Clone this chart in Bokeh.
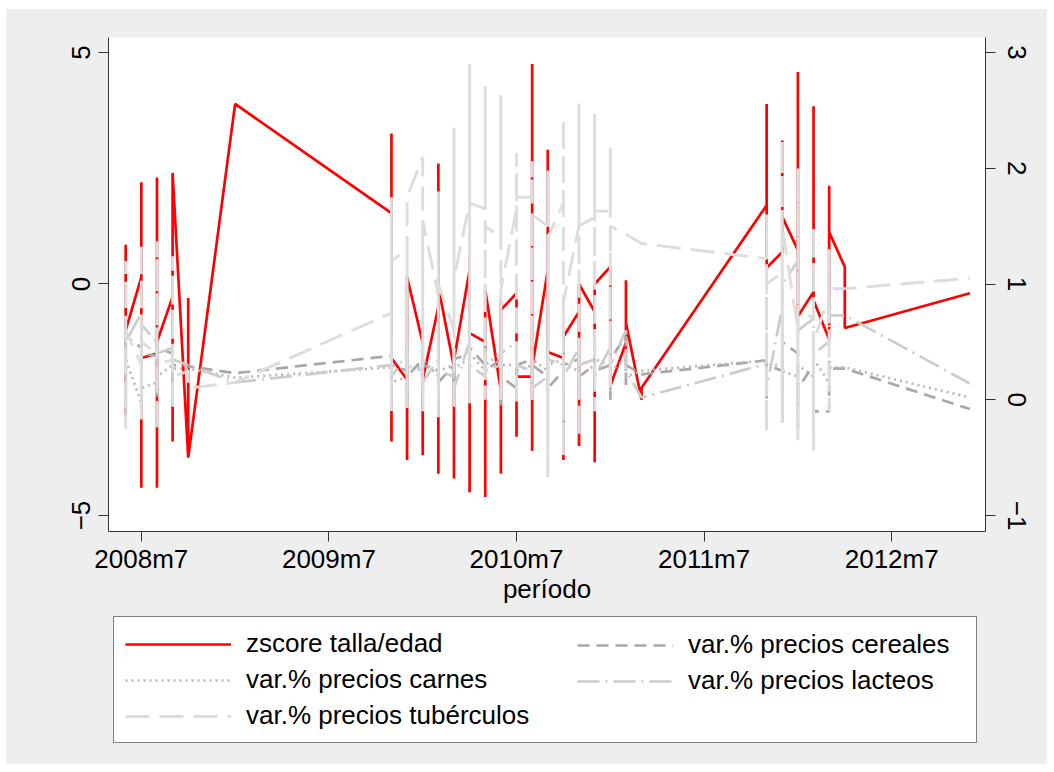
from bokeh.plotting import figure
from bokeh.layouts import column
from bokeh.models import Range1d, LinearAxis, FixedTicker, Legend, LegendItem
from bokeh.embed import file_html
from bokeh.resources import INLINE

# Stata monthly dates (months since 1960m1): 582 = 2008m7
months = [581, 582, 583, 584, 585, 588,
          598, 599, 600, 601, 602, 603, 604, 605, 606, 607, 608, 609, 610, 611, 612, 613, 614,
          622, 623, 624, 625, 626, 627, 635]

# observations inside each month, in data order (left axis)
zscore = [[0.85, -2.8, -1.0], [0.15, 2.2, -4.4, -1.6], [-1.5, 2.3, -4.4, -1.25],
          [-0.28, -3.4, 2.4], [-3.75, -0.3, -3.75], [3.89],
          [1.53, 3.25, -3.4, -1.6], [-2.07, -3.8, 0.15], [-1.27, -3.7, -2.07],
          [-0.5, 2.6, -4.1, -0.06], [-1.8, -4.2, -1.64], [0.3, 0.6, -4.5, -1.06],
          [-1.25, -4.6, -0.13], [-2.3, -4.1, -0.35, -0.56], [-0.2, -3.3, -2.0],
          [-2.0, 4.75, -3.6, -1.8], [0.3, 2.9, -1.47], [-1.6, -3.8, -1.14],
          [-0.6, -3.5, 0.0], [-0.6, -3.85, 0.0], [0.37, -2.2], [-1.27, 0.08, -1.49, -0.84],
          [-2.5, -2.24],
          [1.7, 3.89, 0.35], [0.69, 3.1, 1.45], [0.73, 4.58, -0.7], [-0.17, 3.84, -0.35],
          [-1.2, 2.12, 1.12], [0.37, -0.95], [-0.2]]

# price variations (right axis)
cereales = [[0.3, 0.55, 0.0, 0.55], [0.45, -0.1, 0.4], [0.38, 0.0, 0.45], [0.4, 0.1, 0.3],
            [0.3, 0.29], [0.23],
            [0.38, 0.1, 0.5, 0.3], [0.25, 0.5, 0.2], [0.35, 0.05, 0.3], [0.25, 0.6, 0.15],
            [0.3, 0.0, 0.35], [0.4, 0.15, 0.45], [0.3, 0.6, 0.25], [0.35, -0.05, 0.2],
            [0.1, 0.4, 0.3], [0.35, 0.0, 0.3], [0.2, 0.55, 0.1], [0.25, 0.0, 0.3],
            [0.35, 0.05, 0.2], [0.3, 0.5, 0.25], [0.3, 0.0, 0.35], [0.55, 0.1, 0.3], [0.22],
            [0.34, 0.1, -0.25, 0.3], [0.25, -0.2, 0.5], [0.4, -0.25, 0.1], [0.3, -0.25, 0.15, -0.1],
            [-0.1, 0.3, 0.27], [0.27], [-0.08]]

carnes = [[0.3, 0.2, 0.35], [-0.03, 0.3, 0.1], [0.15, 0.35, 0.2], [0.3, 0.1, 0.27],
          [0.27], [0.19],
          [0.28, 0.45, 0.15], [0.2, 0.35, 0.25], [0.3, 0.1, 0.35], [0.2, 0.4, 0.25],
          [0.3, 0.15, 0.28], [0.35, 0.2, 0.4], [0.25, 0.45, 0.3], [0.4, 0.15, 0.3],
          [0.3, 0.5, 0.25], [0.3, 0.15, 0.35], [0.25, 0.1, 0.3], [0.35, 0.2, 0.3],
          [0.25, 0.4, 0.2], [0.3, 0.15, 0.35], [0.3, 0.45, 0.25], [0.35, 0.2], [0.25],
          [0.34, 0.2, 0.3], [0.3, 0.05, 0.25], [0.2, -0.05, 0.3], [0.2, 0.0, 0.35],
          [0.15, 0.35, 0.28], [0.28], [0.02]]

lacteos = [[0.6, 0.2, -0.2, 0.5], [0.75, 0.0, 0.65], [0.5, 0.1, 0.4], [0.45, 0.0, 0.35],
           [0.3, 0.3], [0.15],
           [0.3, 0.55, 0.2], [0.4, 0.1, 0.3], [0.25, 0.5, 0.15], [0.35, 0.0, 0.25],
           [0.2, 0.45, 0.1], [0.5, 0.9, 0.3], [0.2, 0.45, 0.25], [0.3, 0.0, 0.4],
           [0.5, 0.2, 0.3], [0.25, 0.55, 0.1], [0.2, -0.3, 0.35], [0.3, 0.1, 0.2],
           [0.45, 0.15, 0.3], [0.35, 0.6, 0.2], [0.45, 0.1, 0.3], [0.6, 0.25], [0.02],
           [0.31, 0.9, 0.1], [0.8, 0.3, 1.0], [1.2, 0.5, 0.6], [0.7, 0.2, 0.4],
           [0.5, 0.9, 0.73], [0.73], [0.14]]

tuberculos = [[0.5, 1.2, -0.25, 0.6], [0.3, 1.35, -0.17, 0.5], [0.4, 1.37, -0.27, 0.3],
              [0.35, 1.24, -0.1, 0.2], [0.25, 0.1], [0.15],
              [0.75, 1.75, -0.1, 1.2], [1.3, -0.07, 1.75], [2.1, -0.1, 1.55],
              [0.9, 1.8, -0.15, 1.0], [0.6, 2.35, -0.1, 1.05], [1.7, 2.9, -0.03, 1.7],
              [1.65, 2.71, 0.0, 1.5], [1.4, 2.63, 0.0, 0.95], [1.65, 2.13, -0.05, 1.75],
              [1.75, 2.06, 0.0, 1.6], [1.5, 1.98, -0.67, 1.4], [1.7, 2.43, -0.48, 0.85],
              [1.5, 2.56, -0.32, 1.5], [1.58, 2.47, -0.1, 1.63], [1.63, 2.18, 0.1, 1.5],
              [1.43], [1.35],
              [1.22, 1.6, -0.28, 1.0], [1.1, 2.24, -0.2, 1.5], [0.6, 2.0, -0.35, 0.8],
              [0.7, 1.5, -0.44, 0.5], [0.9, 1.3, -0.1, 0.96], [0.96], [1.05]]

x_ticks = [582, 594, 606, 618, 630]
x_labels = ["2008m7", "2009m7", "2010m7", "2011m7", "2012m7"]
left_ticks = [-5, 0, 5]
right_ticks = [-1, 0, 1, 2, 3]


def expand(ms, groups):
    xs, ys = [], []
    for m, g in zip(ms, groups):
        for v in g:
            xs.append(m)
            ys.append(v)
    return xs, ys


FONT = "Liberation Sans"
AX = "#333333"
BG = "#eeeeee"
OX, OY = 6, 9            # white page strip around the grey graph region
W = 1047 - OX
FRAME_LEFT = 108 - OX

STYLES = {
    "z": dict(line_color="#ff0000", line_width=2.7),
    "cer": dict(line_color="#a8a8a8", line_width=2.7, line_dash="12 7"),
    "car": dict(line_color="#b8b8b8", line_width=2.7, line_dash="2 4"),
    "lac": dict(line_color="#cccccc", line_width=2.7, line_dash="22 6 2 6"),
    "tub": dict(line_color="#dddddd", line_width=2.9, line_dash="24 10"),
}

p = figure(width=W, height=608 - OY, output_backend="svg", toolbar_location=None,
           x_range=Range1d(579.9, 636.0), y_range=Range1d(-5.346, 5.324),
           min_border_left=FRAME_LEFT, min_border_right=1047 - 985, min_border_top=37 - OY,
           min_border_bottom=77,
           background_fill_color="white", border_fill_color=BG,
           outline_line_color=None)
p.extra_y_ranges = {"r": Range1d(-1.138, 3.13)}
p.xgrid.visible = False
p.ygrid.visible = False

# data lines
x, y = expand(months, zscore)
p.line(x, y, **STYLES["z"])
x, y = expand(months, cereales)
p.line(x, y, y_range_name="r", **STYLES["cer"])
x, y = expand(months, carnes)
p.line(x, y, y_range_name="r", **STYLES["car"])
x, y = expand(months, lacteos)
p.line(x, y, y_range_name="r", **STYLES["lac"])
x, y = expand(months, tuberculos)
p.line(x, y, y_range_name="r", **STYLES["tub"])


def style_axis(ax):
    ax.axis_line_color = AX
    ax.major_tick_line_color = AX
    ax.minor_tick_line_color = None
    ax.major_tick_out = 10
    ax.major_tick_in = 0
    ax.major_label_text_font = FONT
    ax.major_label_text_font_size = "26px"
    ax.major_label_text_color = "black"
    ax.axis_label_text_font = FONT
    ax.axis_label_text_font_size = "26px"
    ax.axis_label_text_font_style = "normal"
    ax.axis_label_text_color = "black"


xa = p.xaxis[0]
style_axis(xa)
xa.ticker = FixedTicker(ticks=x_ticks)
xa.major_label_overrides = {t: l for t, l in zip(x_ticks, x_labels)}
xa.axis_label = "período"
xa.major_label_standoff = 2
xa.axis_label_standoff = -3

ya = p.yaxis[0]
style_axis(ya)
ya.ticker = FixedTicker(ticks=left_ticks)
ya.major_label_orientation = "vertical"
ya.major_label_standoff = 8

yr = LinearAxis(y_range_name="r")
style_axis(yr)
yr.ticker = FixedTicker(ticks=right_ticks)
yr.major_label_orientation = "vertical"
yr.major_label_standoff = 12
p.add_layout(yr, "right")

# legend panel below the graph (its frame is aligned with the main frame)
H2 = 764 - 608
q = figure(width=W, height=H2, output_backend="svg", toolbar_location=None,
           x_range=Range1d(0, 1), y_range=Range1d(0, 1), min_border=0,
           min_border_left=FRAME_LEFT, min_border_right=1047 - 985,
           x_axis_location=None, y_axis_location=None,
           background_fill_color=BG, border_fill_color=BG, outline_line_color=None)
q.xgrid.visible = False
q.ygrid.visible = False
k = {name: q.line([-10, -9], [-10, -10], **st) for name, st in STYLES.items()}

common = dict(label_text_font=FONT, label_text_font_size="26px", label_text_color="black",
              glyph_height=28, label_height=28, spacing=5, padding=11, label_standoff=15,
              margin=0)

legA = Legend(items=[LegendItem(label="zscore talla/edad", renderers=[k["z"]]),
                     LegendItem(label="var.% precios carnes", renderers=[k["car"]]),
                     LegendItem(label="var.% precios tubérculos", renderers=[k["tub"]])],
              location=(113 - 108, 21), glyph_width=106, label_width=719,
              border_line_color="black", border_line_width=1,
              background_fill_color="white", background_fill_alpha=1.0, **common)
legB = Legend(items=[LegendItem(label="var.% precios cereales", renderers=[k["cer"]]),
                     LegendItem(label="var.% precios lacteos", renderers=[k["lac"]])],
              location=(566 - 108, 57), glyph_width=96,
              border_line_alpha=0, background_fill_alpha=0.0, **common)
q.add_layout(legA, "center")
q.add_layout(legB, "center")

layout = column(p, q, spacing=0, margin=(OY, 0, 0, OX), styles={"background-color": BG})
open("out.html", "w").write(file_html(layout, INLINE))
